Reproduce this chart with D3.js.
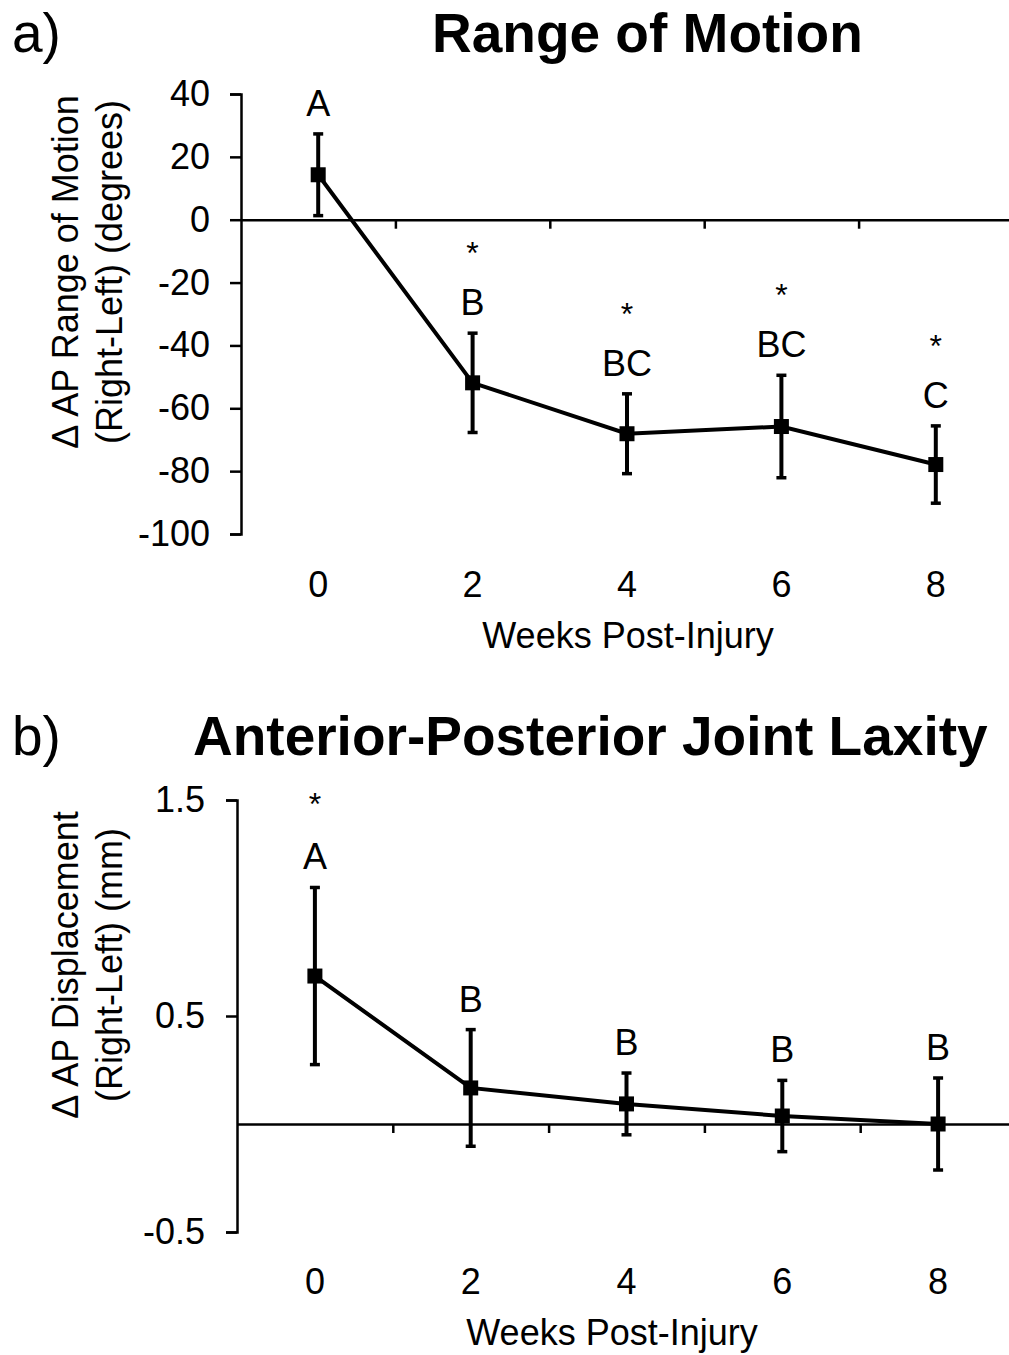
<html>
<head>
<meta charset="utf-8">
<script src='https://d3js.org/d3.v7.min.js'></script>
<style>
body { margin: 0; background: #fff; }
text { font-family: "Liberation Sans", Arial, sans-serif; fill: #000; }
.lbl { font-size: 36px; }
.title { font-size: 55px; font-weight: bold; }
.panel { font-size: 55px; }
.axis path, .axis line { stroke: #000; stroke-width: 2.5px; }
.axis text { font-size: 36px; }
.line { fill: none; stroke: #000; stroke-width: 4px; }
.err { stroke: #000; stroke-width: 4px; }
.cap { stroke: #000; stroke-width: 3.5px; }
</style>
</head>
<body>
<svg id="chart" width=1009 height=1355></svg>
<script>
var weeks = [0, 2, 4, 6, 8];
var gapTicks = [1, 3, 5, 7, 9];

// panel a - range of motion
var romMean = [14.3, -51.9, -68.1, -65.8, -77.9];
var romErr = [13.0, 15.8, 12.7, 16.3, 12.3];
var romLetters = ['A', 'B', 'BC', 'BC', 'C'];
var romStar = [false, true, true, true, true];
var romTicks = [-100, -80, -60, -40, -20, 0, 20, 40];

// panel b - AP laxity
var laxMean = [0.685, 0.167, 0.093, 0.037, 0.0];
var laxErr = [0.41, 0.27, 0.143, 0.165, 0.213];
var laxLetters = ['A', 'B', 'B', 'B', 'B'];
var laxStar = [true, false, false, false, false];
var laxTicks = [-0.5, 0.5, 1.5];

var chart = d3.select('svg');
// plain hyphen for negatives, like the original
var fmt = function(d){ return String(d).replace('\u2212', '-'); };

function panel(opt) {
    var x = d3.scaleLinear().domain([-1, 9]).range(opt.xr);
    var y = d3.scaleLinear().domain(opt.yd).range(opt.yr);
    var rows = weeks.map(function(w, i) {
        return {w: w, m: opt.mean[i], e: opt.err[i], l: opt.letters[i], s: opt.star[i]};
    });

    chart.append('text').attr('class', 'panel')
        .attr('x', 12).attr('y', opt.titleY).text(opt.tag);
    chart.append('text').attr('class', 'title')
        .attr('x', opt.titleX).attr('y', opt.titleY).text(opt.title);

    // y axis
    chart.append('g').attr('class', 'axis')
        .attr('transform', 'translate(' + opt.xr[0] + ',0)')
        .call(d3.axisLeft(y).tickValues(opt.ticks).tickSizeInner(11).tickSizeOuter(11)
            .tickPadding(opt.pad).tickFormat(fmt));

    // zero line with ticks between weeks
    chart.append('g').attr('class', 'axis')
        .attr('transform', 'translate(0,' + y(0) + ')')
        .call(d3.axisBottom(x).tickValues(gapTicks).tickSizeInner(9).tickSizeOuter(0).tickFormat(''));
    chart.selectAll('.axis text').attr('fill', '#000');

    // week labels
    chart.selectAll(null).data(weeks).enter().append('text')
        .attr('class', 'lbl').attr('text-anchor', 'middle')
        .attr('x', function(d){ return x(d); })
        .attr('y', opt.weekY).text(function(d){ return d; });
    chart.append('text').attr('class', 'lbl').attr('text-anchor', 'middle')
        .attr('x', opt.xtX).attr('y', opt.weekY + 51).text('Weeks Post-Injury');

    // y title
    opt.ytitle.forEach(function(t, i) {
        chart.append('text').attr('class', 'lbl').attr('text-anchor', 'middle')
            .attr('transform', 'translate(' + (78 + i * 44) + ',' + opt.ytY + ') rotate(-90)')
            .text(t);
    });

    // error bars
    var g = chart.append('g');
    g.selectAll(null).data(rows).enter().append('line').attr('class', 'err')
        .attr('x1', function(d){ return x(d.w); }).attr('x2', function(d){ return x(d.w); })
        .attr('y1', function(d){ return y(d.m + d.e); }).attr('y2', function(d){ return y(d.m - d.e); });
    [1, -1].forEach(function(sgn) {
        g.selectAll(null).data(rows).enter().append('line').attr('class', 'cap')
            .attr('x1', function(d){ return x(d.w) - 5; }).attr('x2', function(d){ return x(d.w) + 5; })
            .attr('y1', function(d){ return y(d.m + sgn * d.e); }).attr('y2', function(d){ return y(d.m + sgn * d.e); });
    });

    var line = d3.line()
        .x(function(d){ return x(d.w); })
        .y(function(d){ return y(d.m); });
    g.append('path').datum(rows).attr('class', 'line').attr('d', line);

    g.selectAll(null).data(rows).enter().append('rect')
        .attr('x', function(d){ return x(d.w) - 7.5; })
        .attr('y', function(d){ return y(d.m) - 7.5; })
        .attr('width', 15).attr('height', 15).attr('fill', '#000');

    // significance letters and stars
    g.selectAll(null).data(rows).enter().append('text')
        .attr('class', 'lbl').attr('text-anchor', 'middle')
        .attr('x', function(d){ return x(d.w); })
        .attr('y', function(d){ return y(d.m + d.e) - 18; })
        .text(function(d){ return d.l; });
    g.selectAll(null).data(rows.filter(function(d){ return d.s; })).enter().append('text')
        .attr('class', 'lbl').attr('text-anchor', 'middle').style('font-size', '32px')
        .attr('x', function(d){ return x(d.w); })
        .attr('y', function(d){ return y(d.m + d.e) - opt.starOff; })
        .text('*');
}

panel({
    tag: 'a)', title: 'Range of Motion', titleX: 432, titleY: 52,
    xr: [241, 1013], yd: [-100, 40], yr: [534, 94],
    mean: romMean, err: romErr, letters: romLetters, star: romStar, ticks: romTicks,
    pad: 20, weekY: 597, xtX: 628, starOff: 69, ytY: 272,
    ytitle: ['\u0394 AP Range of Motion', '(Right-Left) (degrees)']
});

panel({
    tag: 'b)', title: 'Anterior-Posterior Joint Laxity', titleX: 193, titleY: 755,
    xr: [237, 1016], yd: [-0.5, 1.5], yr: [1232, 800],
    mean: laxMean, err: laxErr, letters: laxLetters, star: laxStar, ticks: laxTicks,
    pad: 21, weekY: 1294, xtX: 612, starOff: 72, ytY: 965,
    ytitle: ['\u0394 AP Displacement', '(Right-Left) (mm)']
});
</script>
</body>
</html>
